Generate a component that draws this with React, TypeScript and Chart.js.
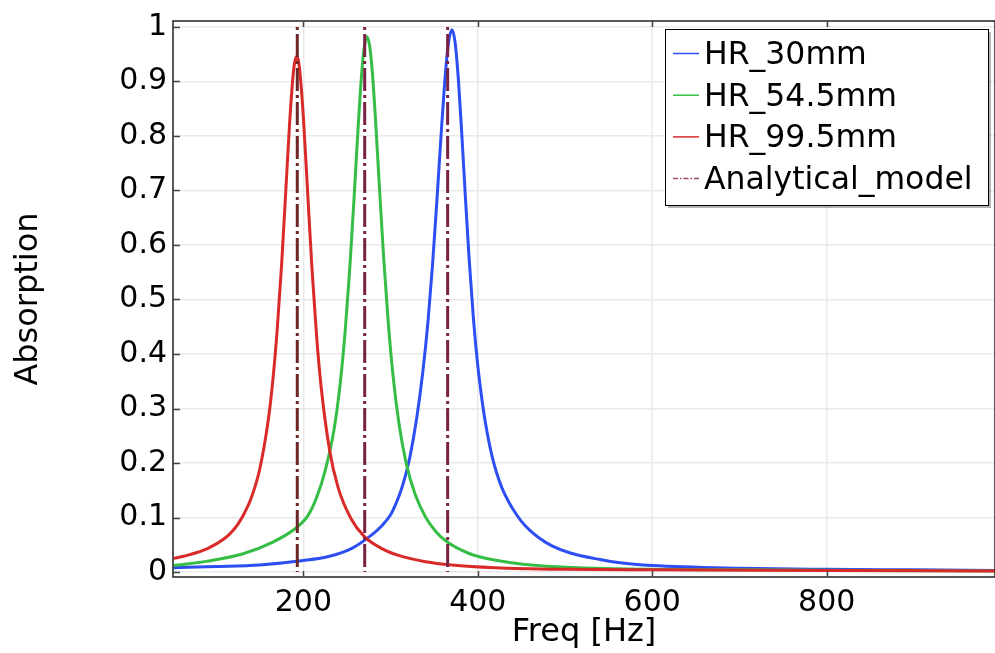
import React, { useEffect, useRef } from 'react';
import { Chart, registerables } from 'chart.js';

Chart.register(...registerables);

const SERIES_NAMES = ['HR_30mm', 'HR_54.5mm', 'HR_99.5mm', 'Analytical_model'];

const FREQ_30 = [51, 100, 150, 200, 230, 255, 275, 290, 300, 306, 312, 317, 322, 330, 337, 343, 348, 353, 358, 362, 366, 370.4, 374, 378, 382, 386, 390, 395, 400, 406, 411, 417, 422, 428, 435, 442, 450, 460, 470, 485, 506, 540, 563, 600, 700, 800, 900, 993];
const ABS_30 = [0.008, 0.01, 0.013, 0.021, 0.029, 0.043, 0.064, 0.085, 0.105, 0.125, 0.15, 0.177, 0.21, 0.283, 0.368, 0.462, 0.562, 0.679, 0.805, 0.898, 0.966, 0.995, 0.971, 0.897, 0.793, 0.681, 0.576, 0.464, 0.378, 0.302, 0.253, 0.208, 0.18, 0.153, 0.13, 0.111, 0.093, 0.076, 0.063, 0.048, 0.035, 0.023, 0.017, 0.012, 0.007, 0.005, 0.004, 0.003];

const FREQ_545 = [51, 90, 130, 165, 190, 205, 215, 225, 235, 242, 248, 253, 258, 263, 267, 270, 273, 276, 279, 283, 287, 292, 297, 303, 310, 318, 328, 340, 352, 365, 390, 410, 468, 563, 700, 850, 993];
const ABS_545 = [0.012, 0.02, 0.033, 0.055, 0.079, 0.103, 0.136, 0.186, 0.26, 0.343, 0.444, 0.553, 0.683, 0.822, 0.918, 0.965, 0.982, 0.965, 0.918, 0.822, 0.711, 0.578, 0.464, 0.357, 0.268, 0.199, 0.143, 0.101, 0.074, 0.055, 0.034, 0.025, 0.012, 0.006, 0.004, 0.003, 0.002];

const FREQ_995 = [51, 70, 90, 110, 118, 125, 132, 140, 150, 160, 165, 170, 175, 180, 184, 188, 190, 192.3, 194, 196, 200, 205, 210, 215, 220, 230, 240, 255, 270, 290, 310, 340, 370, 420, 500, 600, 800, 993];
const ABS_995 = [0.025, 0.032, 0.043, 0.062, 0.074, 0.088, 0.107, 0.135, 0.189, 0.282, 0.352, 0.445, 0.563, 0.704, 0.818, 0.908, 0.935, 0.946, 0.94, 0.917, 0.834, 0.693, 0.553, 0.436, 0.345, 0.224, 0.154, 0.097, 0.065, 0.043, 0.03, 0.019, 0.013, 0.008, 0.005, 0.004, 0.003, 0.002];

const ANALYTICAL_FREQ = [193, 270.3, 365.4];
const ANALYTICAL_SPAN = [1, 0];

const X_TICKS = [200, 400, 600, 800];
const X_TICK_LABELS = ['200', '400', '600', '800'];
const Y_TICKS = [0, 0.1, 0.2, 0.3, 0.4, 0.5, 0.6, 0.7, 0.8, 0.9, 1];
const Y_TICK_LABELS = ['0', '0.1', '0.2', '0.3', '0.4', '0.5', '0.6', '0.7', '0.8', '0.9', '1'];

const COLORS = ['#2d4ff2', '#36bd45', '#d92a2a', '#7a2245'];
const ANALYTICAL_FIRST = '#6e2626';
const FONT = '"DejaVu Sans", sans-serif';

const toPoints = (xs: number[], ys: number[]) => xs.map((x, i) => ({ x, y: ys[i] }));

const framePlugin = {
  id: 'frameTicks',
  afterDatasetsDraw(chart: any) {
    const { ctx, chartArea: a, scales } = chart;
    ctx.save();
    ctx.strokeStyle = '#222';
    ctx.lineWidth = 1.5;
    ctx.strokeRect(a.left, a.top, a.right - a.left, a.bottom - a.top);
    ctx.strokeStyle = '#444';
    ctx.lineWidth = 1.5;
    ctx.beginPath();
    X_TICKS.forEach((v) => {
      const px = Math.round(scales.x.getPixelForValue(v)) + 0.5;
      ctx.moveTo(px, a.bottom);
      ctx.lineTo(px, a.bottom - 6);
      ctx.moveTo(px, a.top);
      ctx.lineTo(px, a.top + 6);
    });
    Y_TICKS.forEach((v) => {
      const py = Math.round(scales.y.getPixelForValue(v)) + 0.5;
      ctx.moveTo(a.left, py);
      ctx.lineTo(a.left + 7, py);
    });
    ctx.stroke();
    ctx.restore();
  },
};

const legendPlugin = {
  id: 'boxLegend',
  afterDraw(chart: any) {
    const ctx = chart.ctx;
    const bx = 665, by = 29, bw = 323, bh = 176;
    ctx.save();
    ctx.fillStyle = 'rgba(0,0,0,0.3)';
    ctx.fillRect(bx + 3, by + 3, bw, bh);
    ctx.fillStyle = '#fff';
    ctx.fillRect(bx, by, bw, bh);
    ctx.strokeStyle = '#000';
    ctx.lineWidth = 1;
    ctx.strokeRect(bx + 0.5, by + 0.5, bw, bh);
    ctx.font = `31.5px ${FONT}`;
    ctx.textBaseline = 'alphabetic';
    ctx.textAlign = 'left';
    chart.data.datasets.forEach((ds: any, i: number) => {
      const y = by + 24.5 + i * 41.7;
      ctx.beginPath();
      ctx.strokeStyle = ds.legendColor;
      ctx.lineWidth = 1.5;
      ctx.setLineDash(i === 3 ? [5, 2, 1.5, 2] : []);
      ctx.moveTo(673, y);
      ctx.lineTo(699, y);
      ctx.stroke();
      ctx.setLineDash([]);
      ctx.fillStyle = '#000';
      ctx.fillText(ds.label, 704, y + 10.5);
    });
    ctx.restore();
  },
};

export default function App() {
  const canvasRef = useRef<HTMLCanvasElement | null>(null);

  useEffect(() => {
    const canvas = canvasRef.current;
    if (!canvas) return;

    const analyticalData: any[] = [];
    ANALYTICAL_FREQ.forEach((f) => {
      ANALYTICAL_SPAN.forEach((v) => analyticalData.push({ x: f, y: v }));
      analyticalData.push({ x: f, y: null });
    });

    const curve = (i: number, xs: number[], ys: number[], order: number) => ({
      label: SERIES_NAMES[i],
      data: toPoints(xs, ys),
      borderColor: COLORS[i],
      legendColor: COLORS[i],
      borderWidth: 3,
      pointRadius: 0,
      cubicInterpolationMode: 'monotone',
      fill: false,
      order,
    });

    const chart = new Chart(canvas, {
      type: 'line',
      data: {
        datasets: [
          curve(0, FREQ_30, ABS_30, 3),
          curve(1, FREQ_545, ABS_545, 2),
          curve(2, FREQ_995, ABS_995, 1),
          {
            label: SERIES_NAMES[3],
            data: analyticalData,
            borderColor: COLORS[3],
            legendColor: '#9a4a6a',
            borderWidth: 3,
            borderDash: [3, 4, 23, 4],
            pointRadius: 0,
            tension: 0,
            spanGaps: false,
            fill: false,
            order: 0,
            segment: {
              borderColor: (c: any) => (c.p0.parsed.x < 230 ? ANALYTICAL_FIRST : COLORS[3]),
            },
          } as any,
        ] as any,
      },
      options: {
        animation: false,
        responsive: false,
        devicePixelRatio: 1,
        layout: { padding: { left: 0, right: 0, top: 16, bottom: 0 } },
        plugins: { legend: { display: false }, tooltip: { enabled: false } },
        scales: {
          x: {
            type: 'linear',
            min: 50.5,
            max: 993,
            afterBuildTicks: (s: any) => {
              s.ticks = X_TICKS.map((v) => ({ value: v }));
            },
            afterFit: (s: any) => {
              s.height = 76;
            },
            grid: { color: '#e9e9e9', lineWidth: 1.5, drawTicks: false },
            border: { display: false },
            ticks: {
              color: '#000',
              padding: 11,
              maxRotation: 0,
              font: { family: FONT, size: 30, lineHeight: 1 },
              callback: (v: any) => X_TICK_LABELS[X_TICKS.indexOf(v)] ?? '',
            },
            title: {
              display: true,
              text: 'Freq [Hz]',
              color: '#000',
              font: { family: FONT, size: 32 },
              padding: { top: 0, bottom: 1.5 },
            },
          },
          y: {
            type: 'linear',
            min: -0.0091,
            max: 1.0109,
            afterBuildTicks: (s: any) => {
              s.ticks = Y_TICKS.map((v) => ({ value: v }));
            },
            afterFit: (s: any) => {
              s.width = 173;
            },
            grid: { color: '#e9e9e9', lineWidth: 1.5, drawTicks: false },
            border: { display: false },
            ticks: {
              color: '#000',
              padding: 6,
              font: { family: FONT, size: 30, lineHeight: 1 },
              callback: (v: any) => {
                const idx = Y_TICKS.findIndex((t) => Math.abs(t - v) < 1e-9);
                return idx >= 0 ? Y_TICK_LABELS[idx] : '';
              },
            },
            title: {
              display: true,
              text: 'Absorption',
              color: '#000',
              font: { family: FONT, size: 32 },
              padding: { top: 9, bottom: 0 },
            },
          },
        },
      },
      plugins: [framePlugin, legendPlugin],
    } as any);

    return () => chart.destroy();
  }, []);

  return (
    <div style={{ position: 'fixed', left: 0, top: 0, width: 995, height: 653, background: '#fff' }}>
      <canvas ref={canvasRef} width={995} height={653} style={{ width: 995, height: 653, display: 'block' }} />
    </div>
  );
}
